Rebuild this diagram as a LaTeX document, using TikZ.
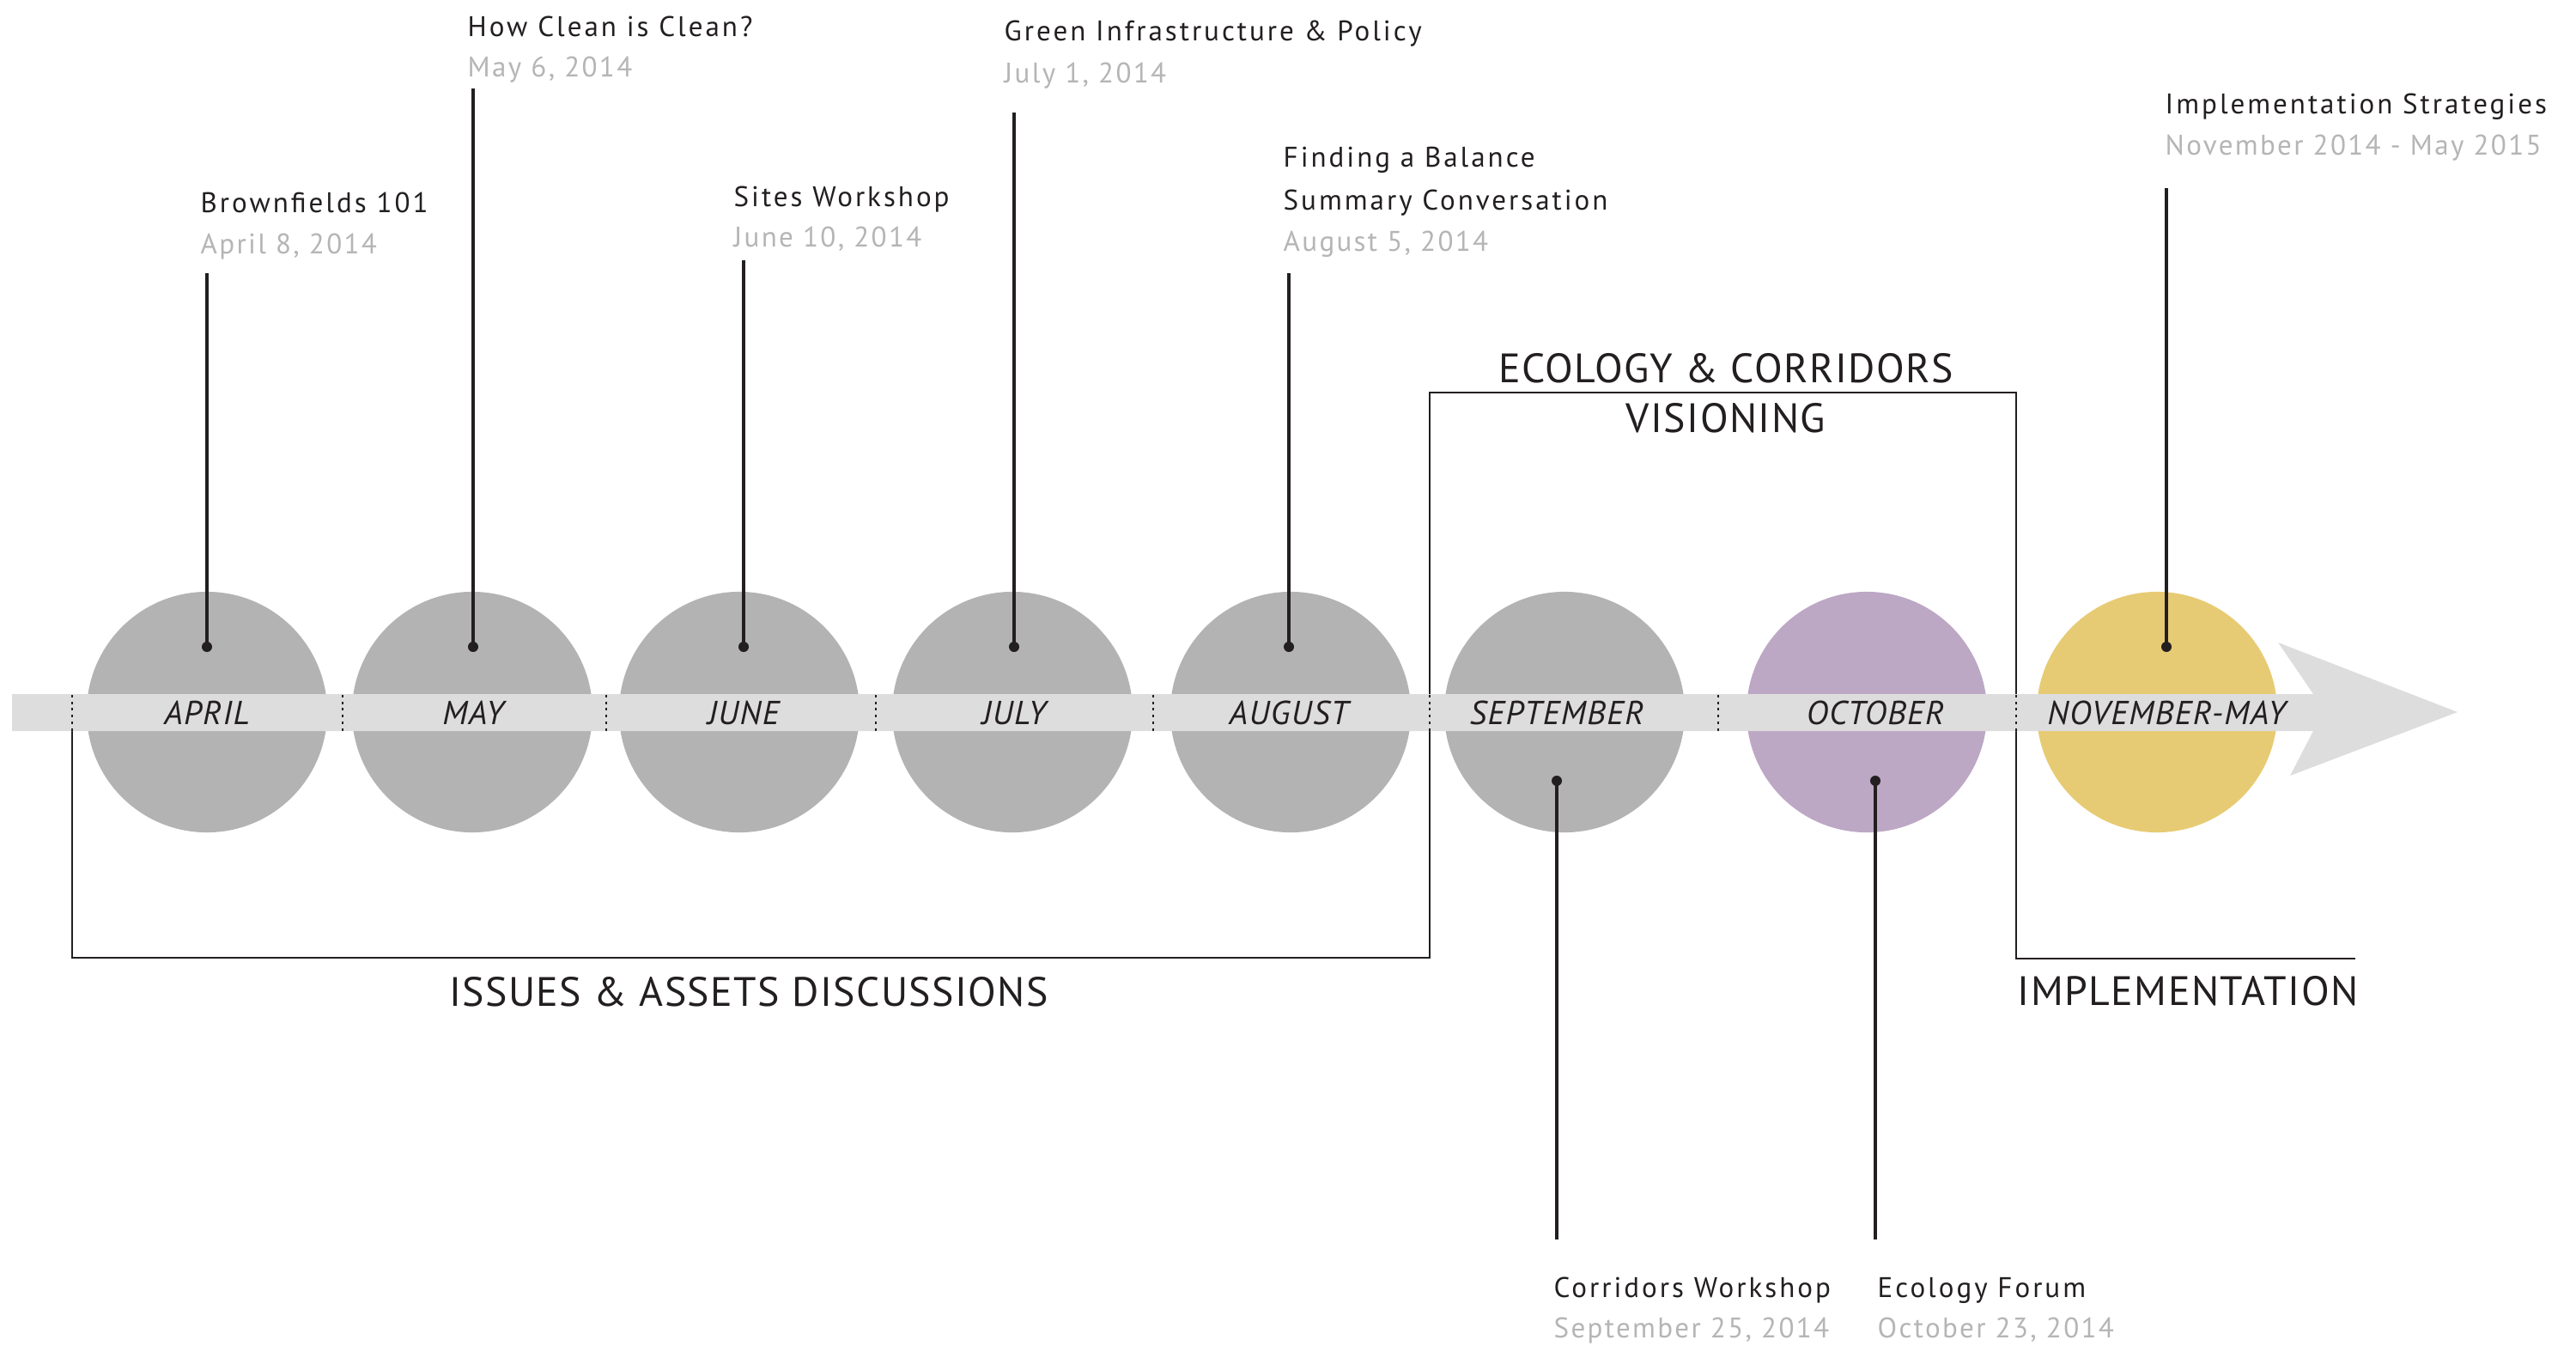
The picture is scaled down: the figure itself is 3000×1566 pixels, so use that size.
\documentclass[tikz,border=0pt]{standalone}
\usepackage{fontspec}
\setmainfont{PT Sans}
\usepackage{xcolor}
\usepackage{tikz}
\usetikzlibrary{positioning}
\definecolor{ink}{HTML}{231F20}
\definecolor{discgray}{HTML}{B3B3B3}
\definecolor{bargray}{HTML}{DEDDDE}
\definecolor{datelgray}{HTML}{B5B5B5}
\definecolor{discpurple}{HTML}{BCA7C4}
\definecolor{discyellow}{HTML}{E7CB74}
\tikzset{
  month disc/.style={
    circle,
    fill=#1,
    inner sep=0pt,
    minimum size=2.8cm,
  },
  month label/.style={
    font=\fontsize{11}{13}\itshape\selectfont\addfontfeatures{LetterSpace=3.5},
    text=ink,
    inner sep=0pt,
  },
  pin dot/.style={
    circle,
    fill=ink,
    inner sep=0pt,
    minimum size=0.12cm,
  },
  leader/.style={
    draw=ink,
    line width=1pt,
  },
  phase line/.style={
    draw=ink,
    line width=0.8pt,
  },
  separator/.style={
    draw=ink,
    line width=0.8pt,
    dash pattern=on 0.8pt off 1.4pt,
  },
  event title/.style={
    anchor=base west,
    inner sep=0pt,
    text=ink,
    font=\fontsize{9.4}{11}\selectfont\addfontfeatures{LetterSpace=9},
  },
  event date/.style={
    event title,
    text=datelgray,
    font=\fontsize{9.4}{11}\selectfont\addfontfeatures{LetterSpace=7},
  },
  phase label/.style={
    anchor=base,
    inner sep=0pt,
    text=ink,
    font=\fontsize{13.6}{16}\selectfont\addfontfeatures{LetterSpace=3},
  }
}

\begin{document}
\begin{tikzpicture}[x=0.01cm, y=-0.01cm]
    \useasboundingbox (0,0) rectangle (3000,1566);

    % phase brackets
    \draw [phase line] (84,851) -- (84,1115) -- (1665,1115) -- (1665,457)
        -- (2348,457) -- (2348,1116) -- (2743,1116);

    % month discs
    \node [month disc=discgray] (apr) at (241,829) {};
    \node [month disc=discgray] (may) at (550,829) {};
    \node [month disc=discgray] (jun) at (861,829) {};
    \node [month disc=discgray] (jul) at (1179,829) {};
    \node [month disc=discgray] (aug) at (1503,829) {};
    \node [month disc=discgray] (sep) at (1822,829) {};
    \node [month disc=discpurple] (oct) at (2174,829) {};
    \node [month disc=discyellow] (nov) at (2512,829) {};

    % time bar and arrow head
    \fill [bargray] (14,808) -- (2694,808) -- (2653,748) -- (2862,829)
        -- (2667,903) -- (2694,851) -- (14,851) -- cycle;
    \foreach \sx in {84,399,706,1020,1343,1665,2001,2348}
        \draw [separator] (\sx,809) -- (\sx,851);

    \node [month label] (apr label) at (241,830) {APRIL};
    \node [month label] (may label) at (551,830) {MAY};
    \node [month label] (jun label) at (866,830) {JUNE};
    \node [month label] (jul label) at (1181,830) {JULY};
    \node [month label] (aug label) at (1501,830) {AUGUST};
    \node [month label] (sep label) at (1813,830) {SEPTEMBER};
    \node [month label] (oct label) at (2184,830) {OCTOBER};
    \node [month label] (nov label) at (2523,830) {NOVEMBER-MAY};

    % events above the bar
    \node [event title] (brown) at (233,247) {Brownfields 101};
    \node [event date] (brown date) at (233,295) {April 8, 2014};
    \node [event title] (clean) at (544,42) {How Clean is Clean?};
    \node [event date] (clean date) at (544,89) {May 6, 2014};
    \node [event title] (sites) at (854,240) {Sites Workshop};
    \node [event date] (sites date) at (854,287) {June 10, 2014};
    \node [event title] (green) at (1169,47) {Green Infrastructure \& Policy};
    \node [event date] (green date) at (1169,96) {July 1, 2014};
    \node [event title] (balance) at (1494,194) {Finding a Balance};
    \node [event title] (summary) at (1494,244) {Summary Conversation};
    \node [event date] (balance date) at (1494,292) {August 5, 2014};
    \node [event title] (strat) at (2521,132) {Implementation Strategies};
    \node [event date] (strat date) at (2521,180) {November 2014 - May 2015};

    % events below the bar
    \node [event title] (corr) at (1809,1510) {Corridors Workshop};
    \node [event date] (corr date) at (1809,1557) {September 25, 2014};
    \node [event title] (forum) at (2186,1510) {Ecology Forum};
    \node [event date] (forum date) at (2186,1557) {October 23, 2014};

    % pins
    \node [pin dot] (apr pin) at (241,753) {};
    \node [pin dot] (may pin) at (551,753) {};
    \node [pin dot] (jun pin) at (866,753) {};
    \node [pin dot] (jul pin) at (1181,753) {};
    \node [pin dot] (aug pin) at (1501,753) {};
    \node [pin dot] (nov pin) at (2523,753) {};
    \node [pin dot] (sep pin) at (1813,909) {};
    \node [pin dot] (oct pin) at (2184,909) {};

    \coordinate (apr top) at (241,318);
    \coordinate (may top) at (551,103);
    \coordinate (jun top) at (866,303);
    \coordinate (jul top) at (1181,131);
    \coordinate (aug top) at (1501,318);
    \coordinate (nov top) at (2523,219);
    \coordinate (sep end) at (1813,1443);
    \coordinate (oct end) at (2184,1443);

    \draw [leader] (apr pin.center) -- (apr top);
    \draw [leader] (may pin.center) -- (may top);
    \draw [leader] (jun pin.center) -- (jun top);
    \draw [leader] (jul pin.center) -- (jul top);
    \draw [leader] (aug pin.center) -- (aug top);
    \draw [leader] (nov pin.center) -- (nov top);
    \draw [leader] (sep pin.center) -- (sep end);
    \draw [leader] (oct pin.center) -- (oct end);

    % phase labels
    \node [phase label] (ecology) at (2010,445) {ECOLOGY \& CORRIDORS};
    \node [phase label] (visioning) at (2010,503) {VISIONING};
    \node [phase label] (issues) at (872,1171) {ISSUES \& ASSETS DISCUSSIONS};
    \node [phase label, anchor=base west] (implement) at (2349,1170) {IMPLEMENTATION};
\end{tikzpicture}
\end{document}
